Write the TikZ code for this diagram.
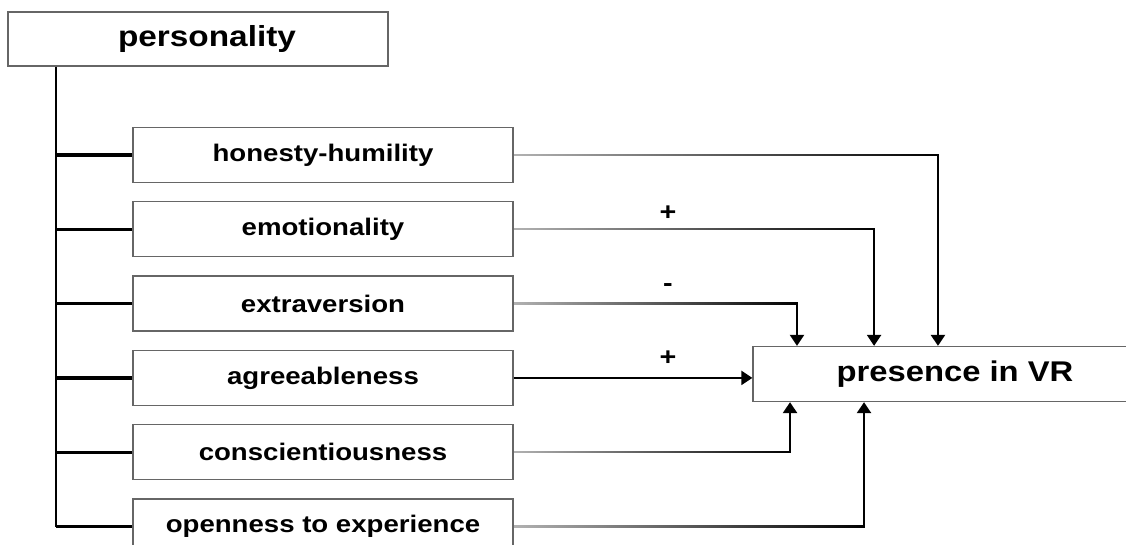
\documentclass[tikz,border=0pt]{standalone}
\usepackage{fontspec}
\newfontfamily\diagfont[FakeStretch=1.15]{Liberation Sans}
\usetikzlibrary{arrows.meta,positioning,fadings}

\tikzfading[name=fadein, left color=transparent!70, middle color=transparent!0, right color=transparent!0]

\begin{document}
\begin{tikzpicture}[
    x=1pt, y=-1pt,
    node distance=18pt,
    trait/.style={
      rectangle, draw=black!60, line width=1.3pt,
      minimum width=380pt, minimum height=55pt, inner sep=0pt,
      font=\diagfont\bfseries\fontsize{24}{28}\selectfont
    },
    head/.style={trait, minimum height=54pt, font=\diagfont\bfseries\fontsize{29}{34}\selectfont},
    outcome/.style={trait, minimum width=404pt, font=\diagfont\bfseries\fontsize{28.5}{33}\selectfont},
    branch/.style={line width=3.2pt},
    link/.style={-{Triangle[length=11pt,width=14pt]}, line width=2.4pt},
    faded/.style={link, path fading=fadein},
    sign/.style={font=\diagfont\bfseries\fontsize{25}{29}\selectfont}
  ]
  \useasboundingbox (0,0) rectangle (1126,544);
  % Nodes -- factor and traits
  \node[head] (pers) at (198,39) {\hspace*{18pt}personality};
  \node[trait] (hh) at (323,155) {honesty-humility};
  \node[trait, below=of hh] (em) {emotionality};
  \node[trait, below=of em] (ex) {extraversion};
  \node[trait, below=of ex] (ag) {agreeableness};
  \node[trait, below=of ag] (co) {conscientiousness};
  \node[trait, below=of co] (oe) {openness to experience};
  % outcome
  \node[outcome] (pr) at (955,374) {presence in VR};
  % Tree
  \coordinate[right=49pt of pers.south west] (trunk);
  \draw[line width=2.2pt] (trunk) -- (trunk |- oe.west);
  \foreach \t in {hh,em,ex,ag,co,oe}
    \draw[branch] (trunk |- \t.west) -- (\t.west);
  % Arrows
  \draw[faded] (hh.east) -| ([xshift=-17pt]pr.north);
  \draw[faded] (em.east) -| ([xshift=-81pt]pr.north);
  \draw[faded] (ex.east) -| ([xshift=-158pt]pr.north);
  \draw[link] (ag.east) -- (ag.east -| pr.west);
  \draw[faded] (co.east) -| ([xshift=-165pt]pr.south);
  \draw[faded] (oe.east) -| ([xshift=-91pt]pr.south);
  % Signs
  \node[sign] (s1) at (668,213) {+};
  \node[sign] (s2) at (668,288) {-};
  \node[sign] (s3) at (668,358) {+};
\end{tikzpicture}
\end{document}
